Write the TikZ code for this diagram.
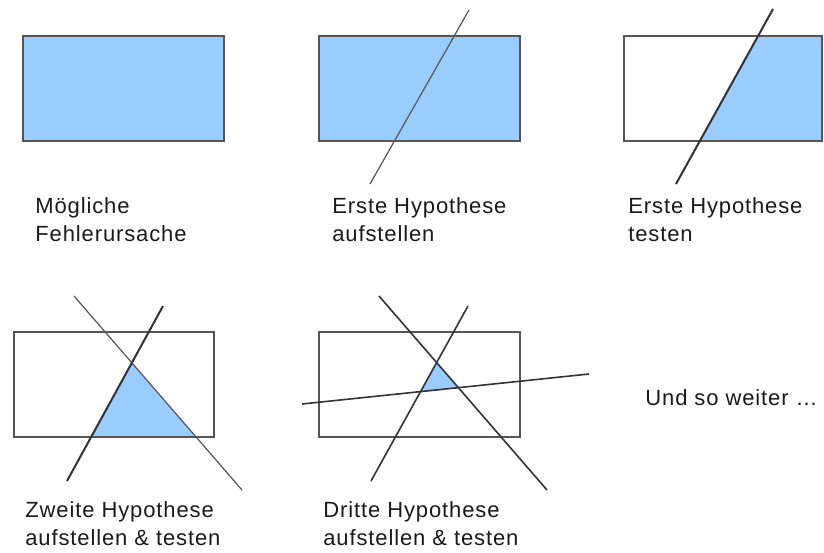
\documentclass[tikz,border=0pt]{standalone}
\usepackage{fontspec}
\setmainfont{Liberation Sans}[LetterSpace=4]
\definecolor{hypBlue}{HTML}{99CCFF}
\definecolor{boxGray}{HTML}{555555}
\definecolor{cutGray}{HTML}{333333}
\definecolor{txtDark}{HTML}{1A1A1A}
\tikzset{
  area/.style={draw=boxGray, line width=0.75pt},
  hit/.style={fill=hypBlue},
  cut/.style={draw=cutGray, line width=1pt},
  cutthin/.style={draw=boxGray, line width=0.6pt},
  lbl/.style={anchor=base west, inner sep=0pt, align=left, text=txtDark,
              font=\fontsize{11}{14}\selectfont},
}

\begin{document}
\begin{tikzpicture}[x=0.5pt, y=-0.5pt]
  \useasboundingbox (0,0) rectangle (824,552);
  % oben links
  \draw[area, hit] (23,36) rectangle (224,141);
  \node[lbl] (moeglich) at (35,241.5) {Mögliche\\Fehlerursache};
  % oben mitte
  \draw[area, hit] (319,36) rectangle (520,141);
  \draw[cutthin] (469,10) -- (370,184);
  \node[lbl] (erste) at (332,241.5) {Erste Hypothese\\aufstellen};
  % oben rechts
  \fill[hit] (758,36) -- (822,36) -- (822,141) -- (700,141) -- cycle;
  \draw[area] (624,36) rectangle (822,141);
  \draw[cut] (773,9) -- (676,184);
  \node[lbl] (test) at (628,241.5) {Erste Hypothese\\testen};
  % unten links
  \fill[hit] (132,363) -- (196,437) -- (91,437) -- cycle;
  \draw[area] (14,332) rectangle (214,437);
  \draw[cutthin] (74,296) -- (242,490);
  \draw[cut] (163,306) -- (67,481);
  \node[lbl] (zweite) at (25,545) {Zweite Hypothese\\aufstellen \& testen};
  % unten mitte
  \fill[hit] (437,363) -- (458,387.7) -- (421,391.6) -- cycle;
  \draw[area] (319,332) rectangle (520,437);
  \draw[cut, line width=0.8pt] (379,296) -- (547,490);
  \draw[cut, line width=0.8pt] (468,306) -- (371,481);
  \draw[cut, line width=0.8pt] (302,404) -- (589,374);
  \node[lbl] (dritte) at (323,545) {Dritte Hypothese\\aufstellen \& testen};
  % rechts
  \node[lbl] (weiter) at (645,405) {Und so weiter …};
\end{tikzpicture}
\end{document}
